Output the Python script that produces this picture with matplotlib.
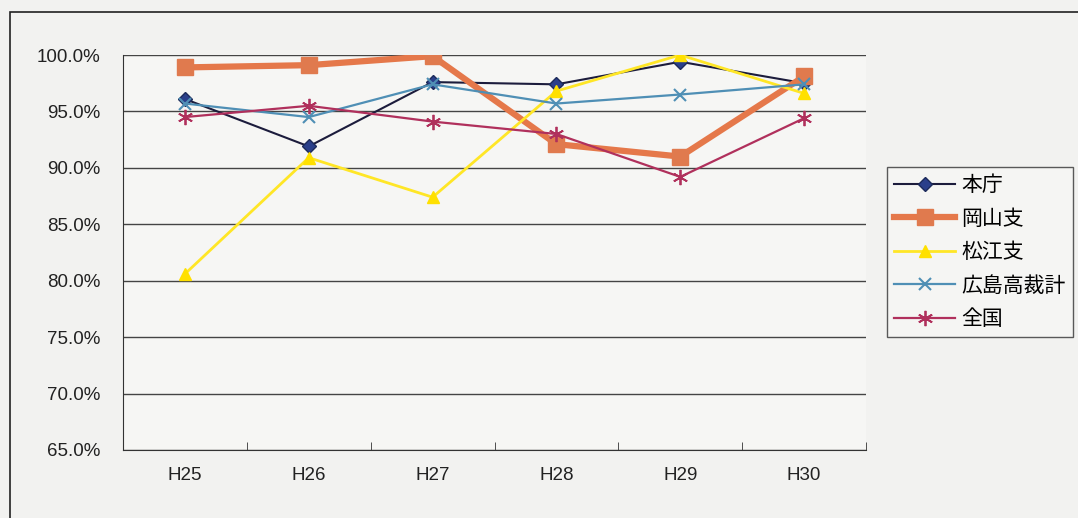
import matplotlib.pyplot as plt
from matplotlib.patches import Rectangle
from matplotlib.ticker import FuncFormatter

plt.rcParams['font.family'] = ['Liberation Sans', 'Noto Sans CJK JP', 'DejaVu Sans']

years = ['H25', 'H26', 'H27', 'H28', 'H29', 'H30']
honcho = [96.1, 91.9, 97.6, 97.4, 99.4, 97.5]
okayama = [98.9, 99.1, 99.9, 92.1, 91.0, 98.1]
matsue = [80.6, 90.9, 87.4, 96.8, 100.0, 96.6]
hiroshima = [95.7, 94.5, 97.4, 95.7, 96.5, 97.4]
zenkoku = [94.5, 95.5, 94.1, 93.0, 89.2, 94.4]

fig = plt.figure(figsize=(10.78, 5.18), dpi=100)
fig.patch.set_facecolor('#f2f2f0')
fig.add_artist(Rectangle((10 / 1078, -0.05), 1.1, (518 - 12) / 518 + 0.05,
                         transform=fig.transFigure, fill=False,
                         edgecolor='#222222', linewidth=1.2))

ax = fig.add_axes([123 / 1078, 1 - 450 / 518, (866 - 123) / 1078, (450 - 55) / 518])
ax.set_facecolor('#f6f6f4')
x = range(len(years))

ax.plot(x, honcho, color='#1c1c3c', marker='D', markersize=7,
        markerfacecolor='#2a3f8a', markeredgecolor='#1c2a5a', linewidth=1.5, label='本庁')
ax.plot(x, okayama, color='#e5784a', marker='s', markersize=12,
        markerfacecolor='#e07a4e', markeredgecolor='#e07a4e', linewidth=4.5, label='岡山支')
ax.plot(x, matsue, color='#ffe626', marker='^', markersize=9,
        markerfacecolor='#ffe000', markeredgecolor='#ffe000', linewidth=2, label='松江支')
ax.plot(x, hiroshima, color='#4f8fb5', marker='x', markersize=8,
        markeredgewidth=1.5, linewidth=1.6, label='広島高裁計')
ax.plot(x, zenkoku, color='#b0305c', marker=(6, 2, 0), markersize=11,
        markeredgewidth=1.3, linewidth=1.6, label='全国')

ax.set_xlim(-0.5, len(years) - 0.5)
ax.set_ylim(65, 100)
ax.set_yticks(range(65, 101, 5))
ax.yaxis.set_major_formatter(FuncFormatter(lambda v, p: f'{v:.1f}%'))
ax.set_xticks(x)
ax.set_xticklabels(years)
ax.set_xticks([i + 0.5 for i in range(-1, len(years))], minor=True)
ax.tick_params(axis='x', which='major', length=0, pad=12, labelsize=13.5)
ax.tick_params(axis='x', which='minor', length=6, direction='in', color='#333333')
ax.tick_params(axis='y', length=0, pad=16, labelsize=13.5)
for lab in ax.get_yticklabels() + ax.get_xticklabels():
    lab.set_color('#222222')
ax.grid(axis='y', color='#444444', linewidth=1)
ax.set_axisbelow(True)
for side in ['top', 'right']:
    ax.spines[side].set_visible(False)
for side in ['left', 'bottom']:
    ax.spines[side].set_color('#333333')

leg = fig.legend(loc='upper left', bbox_to_anchor=(887 / 1078, 1 - 167 / 518),
                 prop={'family': ['Noto Sans CJK JP', 'DejaVu Sans'], 'size': 15},
                 frameon=True, fancybox=False, edgecolor='#333333',
                 facecolor='#f6f6f4', handlelength=2.9, labelspacing=0.55,
                 borderpad=0.35, handletextpad=0.3, borderaxespad=0)
leg.get_frame().set_linewidth(1)

fig.savefig('out.png', dpi=100, facecolor=fig.get_facecolor())
